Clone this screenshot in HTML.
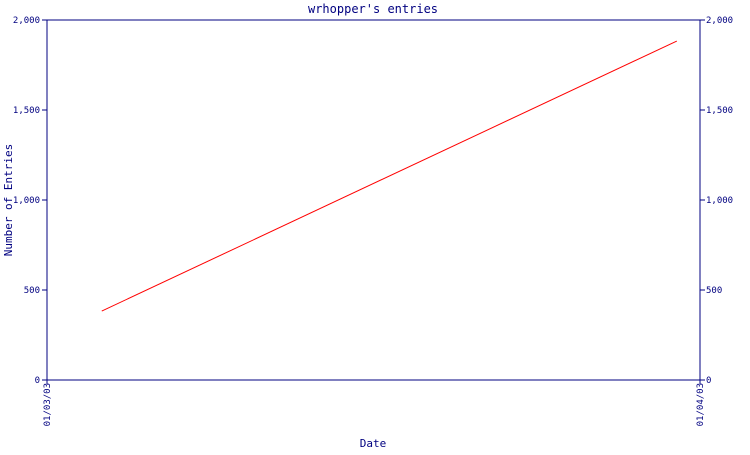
<!DOCTYPE html>
<html><head><meta charset="utf-8"><style>
body{margin:0;background:#fff}
text{font-family:"DejaVu Sans Mono","Liberation Mono",monospace;fill:#000080}
</style></head><body>
<svg id="chart" width="750" height="450" xmlns="http://www.w3.org/2000/svg">
<text x="373" y="13" font-size="12" text-anchor="middle">wrhopper's entries</text>
<text transform="translate(12,200) rotate(-90)" font-size="11" text-anchor="middle">Number of Entries</text>
<text x="373" y="447" font-size="11" text-anchor="middle">Date</text>
<g id="axes"></g>
<g id="marks"></g>
</svg>
<script>
const xDays=[2.6,29.9];
const yValues=[383,1883];
const yTicks=[0,500,1000,1500,2000];
const yTickLabels=["0","500","1,000","1,500","2,000"];
const xTickDays=[0,31];
const xTickLabels=["01/03/03","01/04/03"];
const L=47,R=700,T=20,B=380,NS="http://www.w3.org/2000/svg";
const xs=d=>L+(R-L)*d/31, ys=v=>B-(B-T)*v/2000;
function mk(t,a,p){const e=document.createElementNS(NS,t);for(const k in a)e.setAttribute(k,a[k]);p.appendChild(e);return e;}
const ax=document.getElementById('axes');
const frame=mk('rect',{x:L,y:T,width:R-L,height:B-T,fill:'none',stroke:'#000080','stroke-width':1},ax);


yTicks.forEach((v,i)=>{
 const y=ys(v);
 mk('line',{x1:L-5,x2:L,y1:y,y2:y,stroke:'#000080'},ax);
 mk('line',{x1:R,x2:R+5,y1:y,y2:y,stroke:'#000080'},ax);
 const t=mk('text',{x:L-7,y:y+3,'font-size':9,'text-anchor':'end'},ax);t.textContent=yTickLabels[i];
 
 
 const t2=mk('text',{x:R+6,y:y+3,'font-size':9},ax);t2.textContent=yTickLabels[i];
 
 
});
xTickDays.forEach((d,i)=>{
 const x=xs(d);
 mk('line',{x1:x,x2:x,y1:B,y2:B+4,stroke:'#000080'},ax);
 const t=mk('text',{transform:`translate(${x+3},${B+3}) rotate(-90)`,'font-size':9,'text-anchor':'end'},ax);t.textContent=xTickLabels[i];
 
 
});
const pts=xDays.map((d,i)=>xs(d)+','+ys(yValues[i])).join(' ');
const pl=mk('polyline',{points:pts,fill:'none',stroke:'#ff0000','stroke-width':1},document.getElementById('marks'));


</script>
</body></html>
